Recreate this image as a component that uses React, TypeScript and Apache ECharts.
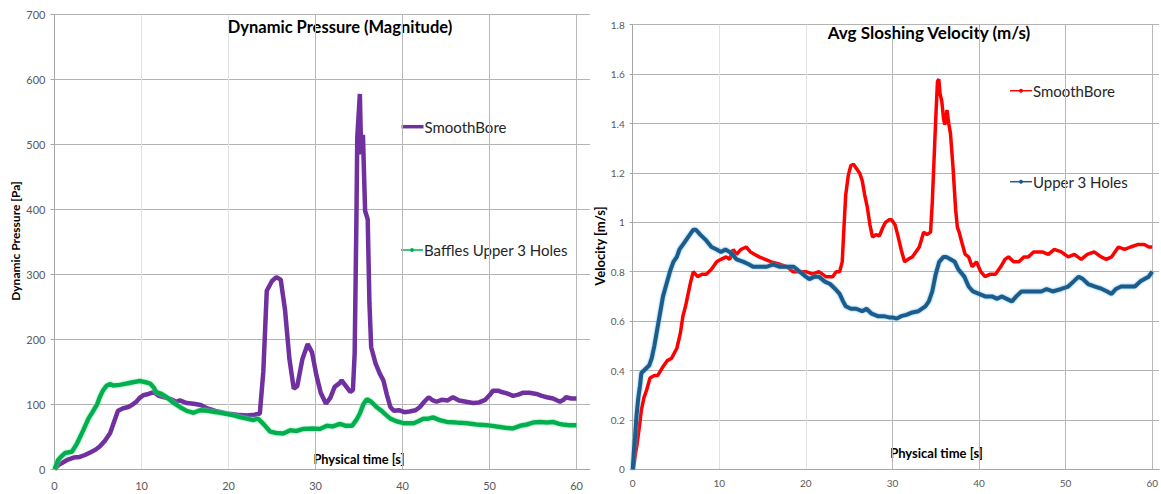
import React, { useEffect, useRef } from "react";
import * as echarts from "echarts";

// ---------- Data: Dynamic Pressure (Magnitude) ----------
const smoothPTime = [0, 0.5, 1.4, 2.2, 2.9, 3.5, 4.1, 4.7, 5.2, 5.8, 6.4, 6.9, 7.3, 7.9, 8.5, 9.0, 9.4, 9.8, 10.2, 10.8, 11.4, 12.0, 12.6, 13.4, 14.0, 14.4, 15.2, 16.0, 16.8, 17.5, 18.5, 19.8, 21.0, 22.1, 23.0, 23.6, 24.0, 24.4, 25.0, 25.5, 26.0, 26.5, 27.0, 27.5, 27.9, 28.5, 29.1, 29.6, 30.1, 30.6, 31.2, 31.7, 32.2, 32.8, 33.0, 33.5, 34.0, 34.3, 34.5, 34.7, 34.8, 35.1, 35.25, 35.45, 35.7, 36.0, 36.2, 36.4, 36.9, 37.4, 37.8, 38.2, 38.6, 39.0, 39.6, 40.2, 40.8, 41.5, 42.0, 42.5, 43.0, 43.5, 43.9, 44.5, 45.2, 45.8, 46.5, 47.3, 48.1, 48.8, 49.5, 50.0, 50.4, 51.0, 51.4, 52.0, 52.7, 53.3, 53.9, 54.6, 55.4, 56.0, 56.6, 57.3, 58.1, 58.5, 58.8, 59.4, 60];
const smoothPValue = [0, 7, 14, 18, 19, 22, 26, 30, 35, 44, 56, 75, 90, 94, 96, 100, 104, 110, 114, 116, 119, 113, 111, 108, 104, 106, 102, 101, 99, 94, 90, 86, 84, 83, 84, 86, 150, 275, 290, 296, 292, 245, 170, 124, 128, 170, 193, 180, 145, 118, 101, 110, 127, 133, 137, 128, 119, 122, 178, 383, 511, 578, 485, 515, 398, 385, 255, 188, 163, 147, 137, 115, 96, 90, 91, 88, 89, 91, 96, 104, 111, 106, 104, 107, 106, 111, 106, 104, 102, 103, 107, 114, 121, 121, 119, 117, 113, 115, 118, 118, 116, 113, 111, 109, 104, 107, 111, 109, 109];

const bafflesPTime = [0, 0.4, 0.8, 1.2, 2.0, 2.6, 3.3, 3.9, 4.5, 4.9, 5.2, 5.6, 6.0, 6.4, 6.8, 7.5, 8.3, 9.0, 9.8, 10.5, 11.0, 11.4, 11.7, 12.3, 12.9, 13.6, 14.4, 15.2, 16.0, 16.7, 17.6, 18.6, 19.5, 20.6, 21.4, 22.1, 22.8, 23.4, 24.0, 24.8, 25.5, 26.3, 27.1, 27.8, 28.5, 29.7, 30.5, 31.3, 32.0, 32.8, 33.5, 34.2, 34.7, 35.1, 35.5, 35.9, 36.4, 37.0, 37.6, 38.0, 38.6, 39.3, 40.1, 40.8, 41.3, 41.8, 42.4, 43.0, 43.5, 44.2, 45.1, 46.2, 47.4, 48.5, 49.7, 50.8, 51.8, 52.7, 53.5, 54.3, 55.0, 55.8, 56.6, 57.3, 58.0, 58.4, 59.2, 60];
const bafflesPValue = [0, 14, 20, 25, 27, 40, 60, 78, 91, 100, 111, 122, 129, 131, 129, 130, 132, 134, 136, 134, 132, 126, 119, 116, 111, 103, 96, 90, 87, 91, 90, 88, 86, 83, 80, 78, 76, 78, 70, 58, 56, 55, 60, 59, 62, 63, 62, 67, 66, 70, 67, 67, 76, 86, 100, 108, 104, 96, 90, 85, 78, 74, 71, 71, 71, 74, 78, 78, 80, 76, 73, 72, 71, 69, 68, 66, 64, 63, 67, 69, 72, 73, 72, 73, 70, 69, 68, 68];

// ---------- Data: Avg Sloshing Velocity (m/s) ----------
const smoothVTime = [0.07, 0.3, 0.5, 0.8, 1.0, 1.3, 1.6, 2.0, 2.5, 2.9, 3.4, 4.0, 4.5, 5.1, 5.5, 5.8, 6.1, 6.4, 6.7, 7.0, 7.5, 8.0, 8.5, 9.1, 9.7, 10.2, 10.8, 11.2, 11.6, 12.0, 12.5, 13.1, 13.6, 14.1, 14.6, 15.3, 16.0, 17.0, 17.8, 18.5, 19.2, 20.0, 20.8, 21.5, 22.3, 23.1, 23.5, 23.9, 24.2, 24.4, 24.6, 24.9, 25.2, 25.5, 25.8, 26.2, 26.5, 26.8, 27.1, 27.4, 27.7, 28.1, 28.5, 28.9, 29.2, 29.6, 29.9, 30.3, 30.6, 31.0, 31.4, 31.8, 32.3, 32.7, 33.1, 33.6, 34.0, 34.4, 34.6, 34.8, 35.0, 35.2, 35.35, 35.5, 35.7, 35.9, 36.05, 36.3, 36.5, 36.7, 37.0, 37.3, 37.5, 37.7, 38.0, 38.4, 38.8, 39.2, 39.7, 40.2, 40.7, 41.3, 41.9, 42.5, 43.0, 43.4, 44.0, 44.6, 45.2, 45.7, 46.3, 47.3, 48.0, 48.7, 49.5, 50.3, 51.0, 51.8, 52.5, 53.3, 54.1, 54.7, 55.3, 56.1, 56.8, 57.5, 58.3, 59.1, 59.6, 60];
const smoothVValue = [0, 0.06, 0.1, 0.18, 0.24, 0.29, 0.32, 0.37, 0.38, 0.38, 0.41, 0.44, 0.45, 0.49, 0.55, 0.62, 0.66, 0.71, 0.76, 0.8, 0.78, 0.79, 0.79, 0.81, 0.84, 0.85, 0.86, 0.85, 0.89, 0.87, 0.89, 0.9, 0.88, 0.87, 0.86, 0.85, 0.84, 0.83, 0.82, 0.8, 0.8, 0.8, 0.79, 0.8, 0.78, 0.78, 0.8, 0.8, 0.84, 0.98, 1.11, 1.19, 1.23, 1.235, 1.22, 1.2, 1.17, 1.11, 1.06, 0.99, 0.94, 0.95, 0.945, 0.98, 1.0, 1.01, 1.01, 0.99, 0.95, 0.89, 0.84, 0.85, 0.86, 0.88, 0.9, 0.96, 0.95, 0.96, 1.08, 1.25, 1.42, 1.57, 1.58, 1.52, 1.49, 1.42, 1.395, 1.455, 1.4, 1.36, 1.22, 1.05, 0.98, 0.96, 0.92, 0.87, 0.86, 0.82, 0.84, 0.8, 0.78, 0.79, 0.79, 0.82, 0.85, 0.86, 0.84, 0.84, 0.86, 0.86, 0.88, 0.88, 0.87, 0.89, 0.88, 0.86, 0.87, 0.85, 0.87, 0.88, 0.86, 0.85, 0.86, 0.9, 0.89, 0.9, 0.91, 0.91, 0.9, 0.9];

const holesVTime = [0, 0.15, 0.27, 0.45, 0.65, 0.85, 1.0, 1.3, 1.6, 1.9, 2.2, 2.5, 2.8, 3.1, 3.5, 3.9, 4.3, 4.7, 5.1, 5.4, 5.8, 6.2, 6.6, 7.0, 7.3, 7.8, 8.4, 9.1, 9.7, 10.2, 10.7, 11.2, 11.5, 12.0, 12.8, 13.4, 13.9, 14.6, 15.5, 16.2, 17.0, 17.8, 18.6, 19.3, 20.0, 20.4, 21.0, 21.5, 22.2, 22.8, 23.4, 23.9, 24.3, 24.6, 25.2, 25.8, 26.5, 27.0, 27.6, 28.3, 29.0, 29.6, 30.0, 30.5, 31.0, 31.6, 32.3, 33.0, 33.8, 34.2, 34.6, 35.0, 35.4, 35.9, 36.2, 36.7, 37.2, 37.6, 38.3, 38.8, 39.3, 40.0, 40.7, 41.5, 42.1, 42.6, 43.2, 43.8, 44.3, 44.9, 45.5, 46.2, 47.2, 47.8, 48.5, 49.5, 50.3, 50.9, 51.5, 52.0, 52.6, 53.4, 54.2, 54.8, 55.3, 55.8, 56.4, 57.2, 58.0, 58.6, 59.1, 59.6, 60];
const holesVValue = [0, 0.08, 0.13, 0.22, 0.29, 0.34, 0.39, 0.4, 0.41, 0.42, 0.45, 0.5, 0.56, 0.62, 0.7, 0.75, 0.8, 0.84, 0.86, 0.89, 0.91, 0.93, 0.95, 0.97, 0.97, 0.95, 0.93, 0.9, 0.89, 0.88, 0.89, 0.88, 0.87, 0.85, 0.84, 0.83, 0.82, 0.82, 0.82, 0.83, 0.82, 0.82, 0.82, 0.8, 0.78, 0.77, 0.78, 0.78, 0.76, 0.75, 0.73, 0.71, 0.68, 0.66, 0.65, 0.65, 0.64, 0.65, 0.63, 0.62, 0.62, 0.615, 0.615, 0.61, 0.62, 0.625, 0.635, 0.64, 0.66, 0.68, 0.72, 0.79, 0.84, 0.86, 0.86, 0.85, 0.84, 0.81, 0.78, 0.74, 0.72, 0.71, 0.7, 0.7, 0.69, 0.7, 0.69, 0.68, 0.7, 0.72, 0.72, 0.72, 0.72, 0.73, 0.72, 0.73, 0.74, 0.76, 0.78, 0.77, 0.75, 0.74, 0.73, 0.72, 0.71, 0.73, 0.74, 0.74, 0.74, 0.76, 0.77, 0.78, 0.8];

const seriesNames = ["SmoothBore", "Baffles Upper 3 Holes", "SmoothBore", "Upper 3 Holes"];
const titles = ["Dynamic Pressure (Magnitude)", "Avg Sloshing Velocity (m/s)"];
const xAxisTitle = "Physical time [s]";
const yAxisTitles = ["Dynamic Pressure [Pa]", "Velocity [m/s]"];

const pairs = (xs: number[], ys: number[]) => xs.map((x, i) => [x, ys[i]]);

const FONT = "Lato, 'Open Sans', sans-serif";
const LABEL = "#595959";
const AXIS = "#a6a6a6";
const HGRID = "#b3b3b3";
const VGRID = ["#bdbdbd", "#e2e2e2", "#e2e2e2", "#b8b8b8", "#b8b8b8", "#b8b8b8", "#b8b8b8"];

const PURPLE = "#7030a0";
const GREEN = "#00b050";
const RED = "#ff0000";
const BLUE = "#1f5b8a";

function legendItem(x: number, y: number, color: string, text: string, thick: boolean) {
  const items: any[] = [
    {
      type: "line",
      shape: { x1: x, y1: y, x2: x + 22, y2: y },
      style: { stroke: color, lineWidth: thick ? 3.5 : 1.5 },
    },
    {
      type: "text",
      x: x + 23,
      y: y,
      style: { text, fontFamily: FONT, fontSize: 15, fill: "#262626", align: "left", verticalAlign: "middle" },
    },
  ];
  if (!thick) {
    items.push({ type: "circle", shape: { cx: x + 11, cy: y, r: 2 }, style: { fill: color } });
  }
  return items;
}

export default function App() {
  const ref = useRef<HTMLDivElement>(null);

  useEffect(() => {
    if (!ref.current) return;
    const chart = echarts.init(ref.current, undefined, { renderer: "svg" });

    const xAxisBase = (gridIndex: number, max: number, margin: number, fontSize: number) => ({
      type: "value",
      gridIndex,
      min: 0,
      max,
      interval: 10,
      axisLine: { show: true, lineStyle: { color: AXIS, width: 1 } },
      axisTick: { show: false },
      axisLabel: {
        color: LABEL,
        fontFamily: FONT,
        fontSize,
        margin,
        showMaxLabel: false,
        formatter: (v: number) => (Math.abs(v % 10) < 1e-6 ? String(v) : ""),
      },
      splitLine: { show: true, showMaxLine: false, lineStyle: { color: VGRID, width: 1 } },
    });

    const option: any = {
      animation: false,
      backgroundColor: "#ffffff",
      grid: [
        { left: 54.5, top: 14.7, width: 535.5, height: 454.6, containLabel: false },
        { left: 632.7, top: 24.7, width: 528.3, height: 444.6, containLabel: false },
      ],
      xAxis: [xAxisBase(0, 61.55, 11, 11), xAxisBase(1, 60.8, 9, 10)],
      yAxis: [
        {
          type: "value",
          gridIndex: 0,
          min: 0,
          max: 700,
          interval: 100,
          axisLine: { show: true, lineStyle: { color: AXIS } },
          axisTick: { show: true, length: 4, lineStyle: { color: AXIS } },
          axisLabel: { color: LABEL, fontFamily: FONT, fontSize: 11, margin: 9 },
          splitLine: { show: true, lineStyle: { color: HGRID } },
        },
        {
          type: "value",
          gridIndex: 1,
          min: 0,
          max: 1.8,
          interval: 0.2,
          axisLine: { show: true, lineStyle: { color: AXIS } },
          axisTick: { show: true, length: 3, lineStyle: { color: AXIS } },
          axisLabel: { color: LABEL, fontFamily: FONT, fontSize: 10, margin: 8 },
          splitLine: { show: true, lineStyle: { color: HGRID } },
        },
      ],
      series: [
        {
          name: seriesNames[0],
          type: "line",
          xAxisIndex: 0,
          yAxisIndex: 0,
          data: pairs(smoothPTime, smoothPValue),
          showSymbol: false,
          lineStyle: { color: PURPLE, width: 4.5 },
          itemStyle: { color: PURPLE },
        },
        {
          name: seriesNames[1],
          type: "line",
          xAxisIndex: 0,
          yAxisIndex: 0,
          data: pairs(bafflesPTime, bafflesPValue),
          showSymbol: false,
          lineStyle: { color: GREEN, width: 4.5, shadowColor: "rgba(120,230,170,0.9)", shadowBlur: 2 },
          itemStyle: { color: GREEN },
        },
        {
          name: seriesNames[2],
          type: "line",
          xAxisIndex: 1,
          yAxisIndex: 1,
          data: pairs(smoothVTime, smoothVValue),
          showSymbol: false,
          lineStyle: { color: RED, width: 3.5 },
          itemStyle: { color: RED },
        },
        {
          name: seriesNames[3],
          type: "line",
          xAxisIndex: 1,
          yAxisIndex: 1,
          data: pairs(holesVTime, holesVValue),
          showSymbol: false,
          lineStyle: { color: BLUE, width: 4, shadowColor: "rgba(80,170,220,0.9)", shadowBlur: 2 },
          itemStyle: { color: BLUE },
        },
      ],
      graphic: [
        {
          type: "text",
          x: 340,
          y: 27,
          style: { text: titles[0], fontFamily: FONT, fontSize: 16.5, fontWeight: "bold", fill: "#000", align: "center", verticalAlign: "middle" },
        },
        {
          type: "text",
          x: 929,
          y: 32,
          style: { text: titles[1], fontFamily: FONT, fontSize: 17, fontWeight: "bold", fill: "#000", align: "center", verticalAlign: "middle" },
        },
        {
          type: "text",
          x: 359,
          y: 459,
          style: { text: xAxisTitle, fontFamily: FONT, fontSize: 12.8, fontWeight: "bold", fill: "#000", align: "center", verticalAlign: "middle" },
        },
        {
          type: "text",
          x: 936.5,
          y: 452.7,
          style: { text: xAxisTitle, fontFamily: FONT, fontSize: 13, fontWeight: "bold", fill: "#000", align: "center", verticalAlign: "middle" },
        },
        {
          type: "text",
          x: 15,
          y: 241,
          rotation: Math.PI / 2,
          style: { text: yAxisTitles[0], fontFamily: FONT, fontSize: 12, fontWeight: "bold", fill: "#000", align: "center", verticalAlign: "middle" },
        },
        {
          type: "text",
          x: 600,
          y: 246,
          rotation: Math.PI / 2,
          style: { text: yAxisTitles[1], fontFamily: FONT, fontSize: 13, fontWeight: "bold", fill: "#000", align: "center", verticalAlign: "middle" },
        },
        ...legendItem(401.5, 126.7, PURPLE, seriesNames[0], true),
        ...legendItem(401, 250, GREEN, seriesNames[1], false),
        ...legendItem(1010, 90.7, RED, seriesNames[2], false),
        ...legendItem(1010, 181.7, BLUE, seriesNames[3], false),
      ],
    };

    chart.setOption(option);
    return () => chart.dispose();
  }, []);

  return (
    <div
      ref={ref}
      style={{ position: "fixed", left: 0, top: 0, width: 1161, height: 494, background: "#fff" }}
    />
  );
}
